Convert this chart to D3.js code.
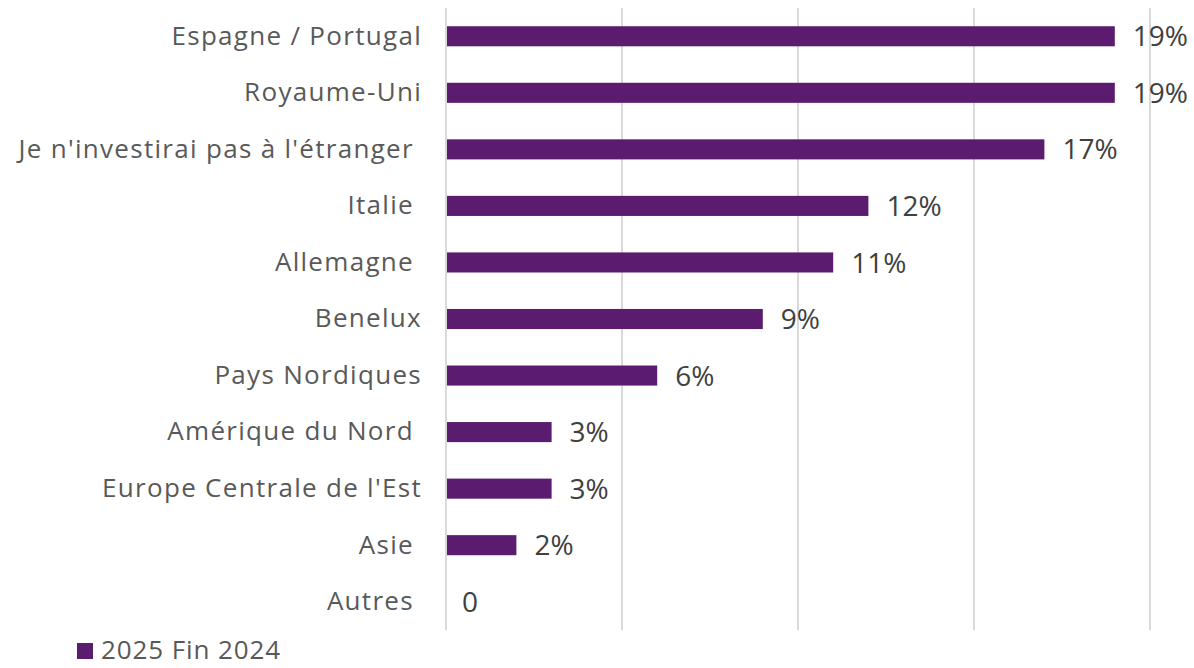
<!DOCTYPE html>
<html>
<head>
<meta charset="utf-8">
<script src="https://cdn.jsdelivr.net/npm/d3@7"></script>
<style>
  body { margin: 0; background: #fff; }
  text { font-family: "Open Sans", "Noto Sans", sans-serif; }
</style>
</head>
<body>
<svg id="chart" width="1194" height="668"></svg>
<script>
// data
const categories = [
  "Espagne / Portugal",
  "Royaume-Uni",
  "Je n'investirai pas à l'étranger ",
  "Italie ",
  "Allemagne ",
  "Benelux",
  "Pays Nordiques",
  "Amérique du Nord ",
  "Europe Centrale de l'Est",
  "Asie ",
  "Autres "
];
const values = [19, 19, 17, 12, 11, 9, 6, 3, 3, 2, 0];
const valueLabels = ["19%", "19%", "17%", "12%", "11%", "9%", "6%", "3%", "3%", "2%", "0"];
const xTicks = [0, 5, 10, 15, 20];
const seriesName = "2025 Fin 2024";

const svg = d3.select("#chart");
const barColor = "#5b1c70";

const x = d3.scaleLinear().domain([0, 20]).range([446, 1150]);
const y = d3.scaleBand()
  .domain(categories)
  .range([8, 630])
  .paddingInner(0.645)
  .paddingOuter(0.3225);

// gridlines
svg.append("g")
  .selectAll("line")
  .data(xTicks)
  .join("line")
  .attr("x1", d => x(d))
  .attr("x2", d => x(d))
  .attr("y1", 8)
  .attr("y2", 630)
  .attr("stroke", "#d9d9d9")
  .attr("stroke-width", 2);

// bars
svg.append("g")
  .selectAll("rect")
  .data(values)
  .join("rect")
  .attr("x", x(0) + 1)
  .attr("y", (d, i) => y(categories[i]))
  .attr("width", d => Math.max(0, x(d) - x(0) - 1))
  .attr("height", y.bandwidth())
  .attr("fill", barColor);

// value labels
svg.append("g")
  .attr("font-size", 28)
  .attr("fill", "#404040")
  .selectAll("text")
  .data(values)
  .join("text")
  .attr("x", d => x(d) + (d > 0 ? 18 : 16))
  .attr("y", (d, i) => y(categories[i]) + y.bandwidth() / 2)
  .attr("dy", "0.36em")
  .text((d, i) => valueLabels[i]);

// category axis
const yAxis = d3.axisLeft(y).tickSize(0).tickPadding(24);
svg.append("g")
  .attr("transform", `translate(${x(0)},0)`)
  .call(yAxis)
  .call(g => g.select(".domain").remove())
  .call(g => g.selectAll(".tick text")
    .attr("font-size", 26)
    .attr("font-family", "'Open Sans', 'Noto Sans', sans-serif")
    .attr("letter-spacing", 1.3)
    .attr("fill", "#595959")
    .style("white-space", "pre"));

// legend
const legend = svg.append("g").attr("transform", "translate(77,643)");
legend.append("rect").attr("width", 16).attr("height", 16).attr("fill", barColor);
legend.append("text")
  .attr("x", 24)
  .attr("y", 16)
  .attr("font-size", 26)
  .attr("letter-spacing", 0.9)
  .attr("fill", "#595959")
  .text(seriesName);
</script>
</body>
</html>
